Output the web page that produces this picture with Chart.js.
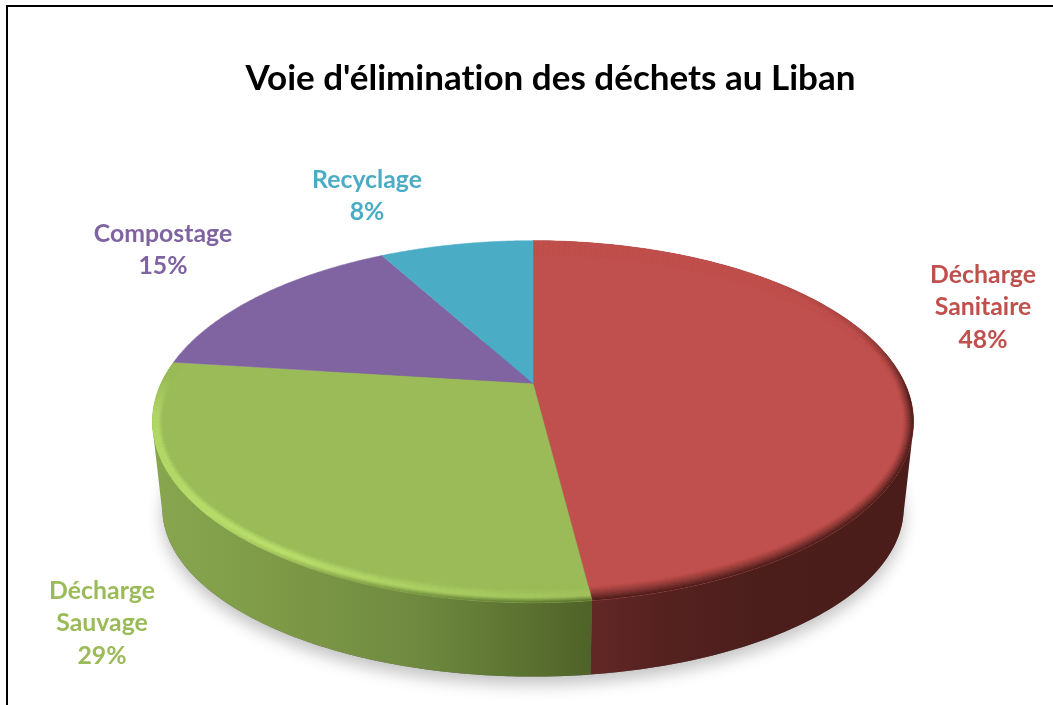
<!DOCTYPE html>
<html lang="fr">
<head>
<meta charset="utf-8">
<title>Voie d'élimination des déchets au Liban</title>
<script src="https://cdn.jsdelivr.net/npm/chart.js@4"></script>
<style>
html,body{margin:0;padding:0;background:#fff;overflow:hidden;width:1053px;height:705px}
#frame{position:absolute;left:6px;top:5px;width:2000px;height:2000px;border:2px solid #000}
#c{position:absolute;left:0;top:0}
</style>
</head>
<body>
<div id="frame"></div>
<canvas id="c" width="1053" height="705"></canvas>
<script>
const chartTitle = "Voie d'élimination des déchets au Liban";
const categories = ['Décharge Sanitaire', 'Décharge Sauvage', 'Compostage', 'Recyclage'];
const shares = [48, 29, 15, 8];
const sliceColors = ['#c0504d', '#9bbb59', '#8064a2', '#4bacc6'];

const labelAnchors = [[983, 275], [102, 591], [163, 234], [367, 180]];
const FONT = 'Lato, Carlito, "Open Sans", sans-serif';
const P = {xr: 1.351, yr: 0.628, tilt: 0.212, drop: 89, lx: 0.974, ly: 0.931};

const clamp = t => Math.max(0, Math.min(1, t));
const rgb = h => [1, 3, 5].map(i => parseInt(h.substr(i, 2), 16));
function mix(a, b, t) {
  const A = rgb(a), B = rgb(b);
  return '#' + A.map((v, i) => Math.round(v + (B[i] - v) * t).toString(16).padStart(2, '0')).join('');
}
function piece(x, pts) {
  if (x <= pts[0][0]) return pts[0][1];
  for (let i = 1; i < pts.length; i++) {
    if (x <= pts[i][0]) {
      const t = (x - pts[i - 1][0]) / (pts[i][0] - pts[i - 1][0]);
      return pts[i - 1][1] + (pts[i][1] - pts[i - 1][1]) * t;
    }
  }
  return pts[pts.length - 1][1];
}
function topPt(el, a) {
  const u = Math.cos(a), v = Math.sin(a), d = 1 - P.tilt * v, R = el.outerRadius;
  return [el.x + R * P.xr * u / d, el.y + R * P.yr * v / d];
}
function lowPt(el, a) {
  const u = Math.cos(a), v = Math.sin(a), d = 1 - P.tilt * v, R = el.outerRadius;
  return [el.x + R * P.xr * P.lx * u / d, el.y + P.drop + R * P.yr * P.ly * v / d];
}
function insetPt(el, a, s) {
  const p = topPt(el, a), R = el.outerRadius;
  const ey = el.y + R * P.yr * P.tilt / (1 - P.tilt * P.tilt);
  const rx = R * P.xr / Math.sqrt(1 - P.tilt * P.tilt), ry = R * P.yr / (1 - P.tilt * P.tilt);
  return [el.x + (p[0] - el.x) * (1 - s * 10 / rx), ey + (p[1] - ey) * (1 - s * 14 / ry)];
}
function bevelColor(i, deg, s) {
  const base = sliceColors[i];
  if (i === 0) {
    const st = piece(deg, [[-45, 0], [-20, .25], [5, 1]]);
    const reach = piece(deg, [[-45, 3], [-20, 1.6], [5, 1]]);
    return mix(base, '#4a1d1b', Math.pow(clamp(1 - s * reach), 1.2) * st);
  }
  if (i === 1) {
    const st = piece(deg, [[83, .15], [100, .45], [125, 1], [170, .75], [183, 0]]);
    const hl = s < .55 ? 1 : (1 - s) / .45;
    let c = mix(base, '#c0e670', hl * st * .85);
    const dark = clamp((140 - deg) / 55);
    if (s < .35) c = mix(c, '#56702c', (1 - s / .35) * dark);
    return c;
  }
  return base;
}
function drawTop(i) {
  return function (ctx) {
    const el = this, n = 120;
    const a0 = el.startAngle, a1 = el.endAngle;
    ctx.save();
    ctx.beginPath();
    ctx.moveTo(el.x, el.y);
    for (let k = 0; k <= n; k++) {
      const p = topPt(el, a0 + (a1 - a0) * k / n);
      ctx.lineTo(p[0], p[1]);
    }
    ctx.closePath();
    ctx.fillStyle = el.options.backgroundColor;
    ctx.strokeStyle = el.options.backgroundColor;
    ctx.lineWidth = 0.5;
    ctx.fill();
    ctx.stroke();
    if (i < 2) {
      ctx.clip();
      const rings = 12, step = Math.PI / 180;
      ctx.lineWidth = 0.7;
      for (let a = a0; a < a1; a += step) {
        const b = Math.min(a + step, a1), deg = (a + b) / 2 * 180 / Math.PI;
        for (let r = rings - 1; r >= 0; r--) {
          const s0 = r / rings, s1 = (r + 1) / rings;
          const c = bevelColor(i, deg, (s0 + s1) / 2);
          const q = [insetPt(el, a, s0), insetPt(el, b, s0), insetPt(el, b, s1), insetPt(el, a, s1)];
          ctx.fillStyle = c; ctx.strokeStyle = c;
          ctx.beginPath();
          q.forEach((p, j) => j ? ctx.lineTo(p[0], p[1]) : ctx.moveTo(p[0], p[1]));
          ctx.closePath(); ctx.fill(); ctx.stroke();
        }
      }
    }
    ctx.restore();
  };
}
function addWall(ctx, el, a, b) {
  let q = [topPt(el, a), topPt(el, b), lowPt(el, b), lowPt(el, a)];
  let area = 0;
  q.forEach((p, j) => { const r = q[(j + 1) % 4]; area += p[0] * r[1] - r[0] * p[1]; });
  if (area < 0) q = q.reverse();
  q.forEach((p, j) => j ? ctx.lineTo(p[0], p[1]) : ctx.moveTo(p[0], p[1]));
  ctx.closePath();
}
const pie3d = {
  id: 'pie3d',
  afterLayout(chart) {
    chart.titleBlock.left += 17.5;
    chart.titleBlock.right += 17.5;
  },
  beforeDraw(chart) {
    chart.ctx.letterSpacing = '0.01px';
  },
  beforeDatasetsDraw(chart) {
    const ctx = chart.ctx, arcs = chart.getDatasetMeta(0).data, e0 = arcs[0], n = 240;
    ctx.save();
    ctx.shadowColor = 'rgba(0,0,0,0.24)';
    ctx.shadowBlur = 16;
    ctx.shadowOffsetY = 8;
    ctx.fillStyle = '#666';
    ctx.beginPath();
    for (let k = 0; k <= n; k++) {
      const p = lowPt(e0, 2 * Math.PI * k / n);
      k ? ctx.lineTo(p[0], p[1]) : ctx.moveTo(p[0], p[1]);
    }
    ctx.closePath();
    ctx.fill();
    ctx.restore();

    const grads = [
      [[0, '#622826'], [.2, '#562220'], [.5, '#4b1e1c'], [1, '#4a1d1b']],
      [[0, '#4f6228'], [.4, '#6f8a3f'], [.7, '#7d9947'], [1, '#88a64e']]
    ];
    arcs.forEach((el, i) => {
      if (i < 2) {
        const a0 = el.startAngle, a1 = el.endAngle, m = 160;
        const x0 = topPt(el, Math.PI * shares[0] * 2 / 100 - Math.PI / 2)[0];
        const x1 = i === 0 ? x0 + 325 : x0 - 437;
        const g = ctx.createLinearGradient(x0, 0, x1, 0);
        grads[i].forEach(s => g.addColorStop(s[0], s[1]));
        ctx.fillStyle = g;
        ctx.beginPath();
        for (let k = 0; k < m; k++) {
          addWall(ctx, el, a0 + (a1 - a0) * k / m, a0 + (a1 - a0) * (k + 1) / m);
        }
        ctx.fill('nonzero');
      }
      el.draw = drawTop(i);
    });
  },
  afterDatasetsDraw(chart) {
    const ctx = chart.ctx;
    ctx.save();
    ctx.textAlign = 'center';
    ctx.textBaseline = 'middle';
    ctx.font = 'bold 24.8px ' + FONT;
    categories.forEach((name, i) => {
      const lines = name.split(' ').concat(shares[i] + '%');
      ctx.fillStyle = sliceColors[i];
      lines.forEach((t, j) => ctx.fillText(t, labelAnchors[i][0], labelAnchors[i][1] + j * 32.5));
    });
    ctx.restore();
  }
};
new Chart(document.getElementById('c'), {
  type: 'pie',
  data: {
    labels: categories,
    datasets: [{data: shares, backgroundColor: sliceColors, borderWidth: 0}]
  },
  options: {
    responsive: false,
    animation: false,
    layout: {padding: {left: 13, right: 0, top: 0, bottom: 46.4}},
    plugins: {
      legend: {display: false},
      tooltip: {enabled: false},
      title: {
        display: true,
        text: chartTitle,
        color: '#000',
        font: {family: FONT, size: 35, weight: 'bold'},
        padding: {top: 58, bottom: 8}
      }
    }
  },
  plugins: [pie3d]
});
</script>
</body>
</html>
